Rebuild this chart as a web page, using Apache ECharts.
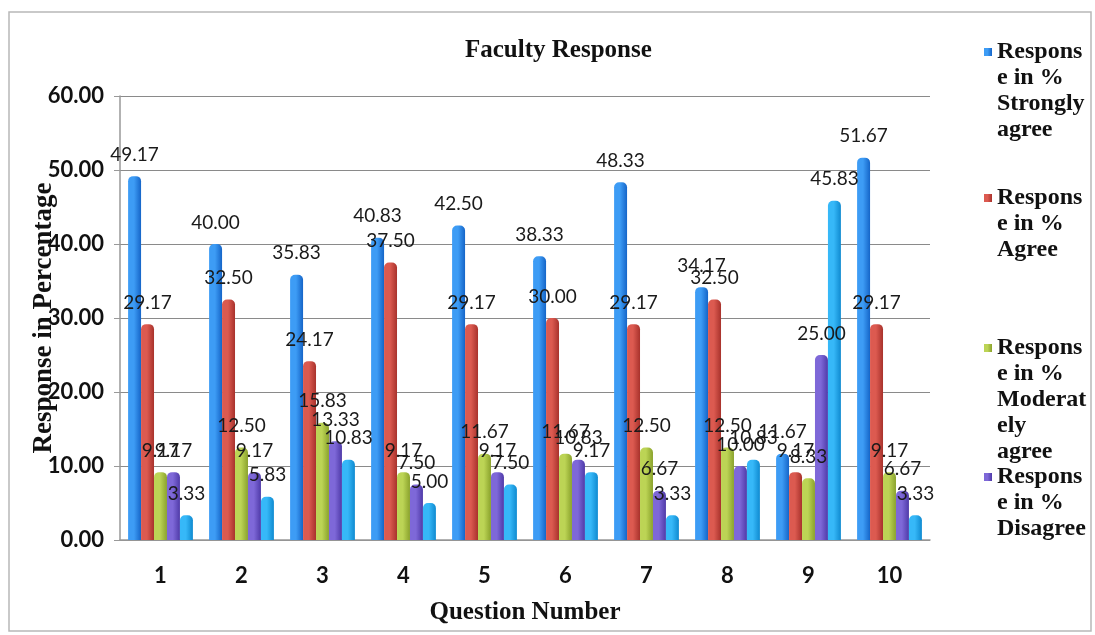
<!DOCTYPE html>
<html><head><meta charset="utf-8">
<script src="https://cdn.jsdelivr.net/npm/echarts@6/dist/echarts.min.js"></script>
<style>html,body{margin:0;padding:0;background:#fff}#c{width:1095px;height:635px}</style>
</head><body><div id="c"></div>
<script>
const categories = ['1','2','3','4','5','6','7','8','9','10'];
const seriesNames = ['Response in % Strongly agree','Response in % Agree','Response in % Moderately agree','Response in % Disagree','Response in % Strongly disagree'];
const stronglyAgree    = [49.17,40.00,35.83,40.83,42.50,38.33,48.33,34.17,11.67,51.67];
const agree            = [29.17,32.50,24.17,37.50,29.17,30.00,29.17,32.50, 9.17,29.17];
const moderatelyAgree  = [ 9.17,12.50,15.83, 9.17,11.67,11.67,12.50,12.50, 8.33, 9.17];
const disagree         = [ 9.17, 9.17,13.33, 7.50, 9.17,10.83, 6.67,10.00,25.00, 6.67];
const stronglyDisagree = [ 3.33, 5.83,10.83, 5.00, 7.50, 9.17, 3.33,10.83,45.83, 3.33];
const yTickValues = [0,10,20,30,40,50,60];
const legendLines = [
  ['Respons','e in %','Strongly','agree'],
  ['Respons','e in %','Agree'],
  ['Respons','e in %','Moderat','ely','agree'],
  ['Respons','e in %','Disagree']
];

const values = [stronglyAgree, agree, moderatelyAgree, disagree, stronglyDisagree];
const baseColors = [['#1565c8','#3d9cf5'],['#a8322c','#dc5a50'],['#8aa22c','#bcd455'],['#4f3aa8','#7e68d8'],['#0f8ad0','#36b8f8']];
const legendIconColors = ['#1f86e8','#cc4040','#a8bc48','#6a5ac8','#20a8f0'];

const LH = 26;
const legendIconCenters = [52, 198, 348, 477];
const legends = legendLines.map((lines, i) => {
  const n = lines.length;
  // (n-1) empty lines before the text so that the first real line sits beside the icon
  const text = new Array(n - 1).fill('').concat(lines).join('\n');
  return {
    data: [seriesNames[i]],
    left: 984,
    top: legendIconCenters[i] - (2 * n - 1) * LH / 2,
    padding: 0,
    icon: 'rect',
    itemWidth: 8,
    itemHeight: 8,
    itemGap: 0,
    selectedMode: false,
    formatter: () => text,
    textStyle: {
      fontFamily: 'Liberation Serif',
      fontWeight: 'bold',
      fontSize: 24,
      lineHeight: LH,
      color: '#111'
    }
  };
});

const chart = echarts.init(document.getElementById('c'), null, {renderer: 'canvas'});
chart.setOption({
  backgroundColor: '#fff',
  animation: false,
  title: {
    text: 'Faculty Response',
    left: 460, top: 33,
    textStyle: {fontFamily: 'Liberation Serif', fontWeight: 'bold', fontSize: 25, color: '#111'}
  },
  graphic: [{
    type: 'rect', silent: true, z: -1,
    shape: {x: 9, y: 12, width: 1082, height: 619},
    style: {fill: 'none', stroke: '#b8b8b8', lineWidth: 1.5}
  }],
  legend: legends,
  grid: {left: 120, width: 810, top: 96, bottom: 95},
  xAxis: {
    type: 'category',
    data: categories,
    name: 'Question Number',
    nameLocation: 'middle',
    nameGap: 60,
    nameMoveOverlap: false,
    nameTextStyle: {fontFamily: 'Liberation Serif', fontWeight: 'bold', fontSize: 25, color: '#111'},
    axisLine: {show: true, lineStyle: {color: '#999', width: 1.5}},
    axisTick: {show: false},
    axisLabel: {margin: 25, fontFamily: 'Lato', fontWeight: 'bold', fontSize: 22, color: '#111'}
  },
  yAxis: {
    type: 'value',
    min: yTickValues[0],
    max: yTickValues[yTickValues.length - 1],
    interval: yTickValues[1] - yTickValues[0],
    name: 'Response in Percentage',
    nameLocation: 'middle',
    nameGap: 62,
    nameMoveOverlap: false,
    nameTextStyle: {fontFamily: 'Liberation Serif', fontWeight: 'bold', fontSize: 27, color: '#111'},
    axisLine: {show: true, lineStyle: {color: '#999', width: 1.5}},
    axisTick: {show: true, length: 6, lineStyle: {color: '#999'}},
    splitLine: {show: true, lineStyle: {color: '#8a8a8a', width: 1.2}},
    axisLabel: {
      margin: 16,
      fontFamily: 'Lato', fontWeight: 'bold', fontSize: 22, color: '#111',
      formatter: v => v.toFixed(2)
    }
  },
  series: values.map((arr, i) => ({
    name: seriesNames[i],
    type: 'bar',
    data: arr,
    barGap: '0%',
    barCategoryGap: '20%',
    color: legendIconColors[i],
    itemStyle: {
      color: {
        type: 'linear', x: 0, y: 0, x2: 1, y2: 0,
        colorStops: [
          {offset: 0, color: baseColors[i][1]},
          {offset: 0.45, color: baseColors[i][1]},
          {offset: 1, color: baseColors[i][0]}
        ]
      },
      borderRadius: [5, 5, 0, 0]
    },
    label: {
      show: true,
      position: 'top',
      distance: 12,
      fontFamily: 'Lato',
      fontSize: 19,
      color: '#1a1a1a',
      formatter: p => p.value.toFixed(2)
    }
  }))
});
</script>
</body></html>
